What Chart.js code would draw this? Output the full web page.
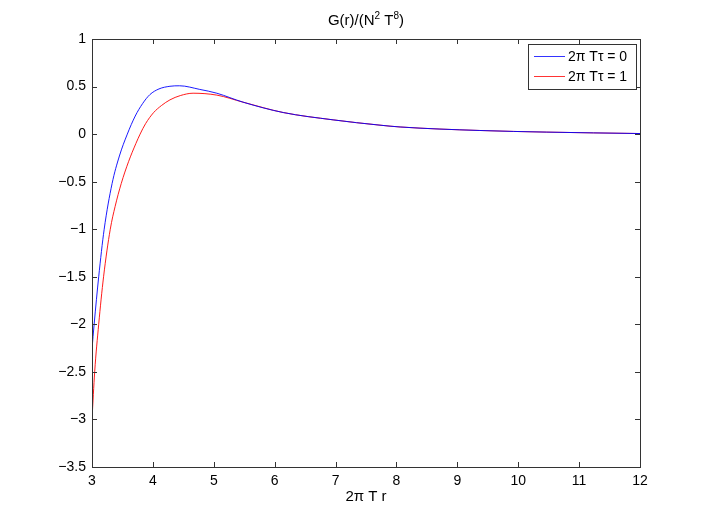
<!DOCTYPE html>
<html><head><meta charset="utf-8">
<script src="https://cdn.jsdelivr.net/npm/chart.js@4"></script>
<style>html,body{margin:0;padding:0;background:#fff}#wrap{width:708px;height:527px}</style>
</head><body><div id="wrap"><canvas id="c" width="708" height="527"></canvas></div>
<script>
const titleParts = [['G(r)/(N',0],['2',1],[' T',0],['8',1],[')',0]];
const xLabel = '2\u03C0 T r';
const seriesNames = ['2\u03C0 T\u03C4 = 0', '2\u03C0 T\u03C4 = 1'];
const xTicks = [3,4,5,6,7,8,9,10,11,12];
const yTicks = [1,0.5,0,-0.5,-1,-1.5,-2,-2.5,-3,-3.5];
const rTau0 = [3.0,3.035,3.11,3.20,3.33,3.45,3.58,3.71,3.83,3.95,4.10,4.28,4.44,4.77,5.05,5.48,6.14,6.96,7.73,8.06,9.37,10.47,12];
const gTau0 = [-2.26,-2.0,-1.5,-1.0,-0.52,-0.23,0.0,0.19,0.32,0.415,0.475,0.503,0.508,0.47,0.43,0.336,0.227,0.15,0.094,0.075,0.038,0.021,0.006];
const rTau1 = [3.0,3.044,3.11,3.19,3.30,3.38,3.48,3.60,3.72,3.79,3.88,4.01,4.14,4.28,4.45,4.66,5.05,5.48,6.14,6.96,7.73,8.06,9.37,10.47,12];
const gTau1 = [-3.0,-2.5,-2.0,-1.5,-1.0,-0.76,-0.52,-0.29,-0.10,0.0,0.11,0.225,0.30,0.36,0.405,0.43,0.41,0.336,0.227,0.15,0.094,0.075,0.038,0.021,0.006];
const colors = ['#0000ff','#ff0000'];

const toXY = (xs, ys) => xs.map((x,i)=>({x:x,y:ys[i]}));
const FONT = '"Liberation Sans", Arial, Helvetica, sans-serif';

const deco = {
  id:'deco',
  afterDraw(chart){
    const ctx = chart.ctx, a = chart.chartArea;
    const xs = chart.scales.x, ys = chart.scales.y;
    ctx.save();
    ctx.strokeStyle = '#333'; ctx.lineWidth = 1;
    ctx.strokeRect(Math.round(a.left)+0.5, Math.round(a.top)+0.5, Math.round(a.right-a.left), Math.round(a.bottom-a.top));
    const L = 5;
    ctx.beginPath();
    xTicks.forEach(v=>{
      const px = Math.round(xs.getPixelForValue(v))+0.5;
      ctx.moveTo(px, a.bottom); ctx.lineTo(px, a.bottom-L);
      ctx.moveTo(px, a.top); ctx.lineTo(px, a.top+L);
    });
    yTicks.forEach(v=>{
      const py = Math.round(ys.getPixelForValue(v))+0.5;
      ctx.moveTo(a.left, py); ctx.lineTo(a.left+L, py);
      ctx.moveTo(a.right, py); ctx.lineTo(a.right-L, py);
    });
    ctx.stroke();
    // title with superscripts
    ctx.fillStyle = '#000';
    ctx.textBaseline = 'alphabetic'; ctx.textAlign = 'left';
    const fMain = '15px ' + FONT, fSup = '10px ' + FONT;
    let w = 0;
    titleParts.forEach(p=>{ ctx.font = p[1] ? fSup : fMain; w += ctx.measureText(p[0]).width; });
    let tx = (a.left+a.right)/2 - w/2;
    titleParts.forEach(p=>{
      ctx.font = p[1] ? fSup : fMain;
      ctx.fillText(p[0], tx, p[1] ? 19 : 25);
      tx += ctx.measureText(p[0]).width;
    });
    // x label
    ctx.font = '15px ' + FONT;
    ctx.textAlign = 'center'; ctx.textBaseline = 'middle';
    ctx.fillText(xLabel, (a.left+a.right)/2, 497);
    // legend
    const bx = 528, by = 44, bw = 108, bh = 45;
    ctx.fillStyle = '#fff';
    ctx.fillRect(bx, by, bw, bh);
    ctx.strokeStyle = '#333'; ctx.lineWidth = 1;
    ctx.strokeRect(bx+0.5, by+0.5, bw, bh);
    ctx.font = '14px ' + FONT;
    ctx.textAlign = 'left';
    seriesNames.forEach((n,i)=>{
      const yy = 56 + i*20;
      ctx.strokeStyle = colors[i]; ctx.lineWidth = 0.8;
      ctx.beginPath(); ctx.moveTo(534, yy+0.5); ctx.lineTo(565, yy+0.5); ctx.stroke();
      ctx.fillStyle = '#000';
      ctx.fillText(n, 568, yy+1);
    });
    ctx.restore();
  }
};

new Chart(document.getElementById('c'), {
  type:'scatter',
  data:{datasets:[
    {label:seriesNames[0], data:toXY(rTau0,gTau0), showLine:true, borderColor:colors[0], borderWidth:0.9, pointRadius:0, cubicInterpolationMode:'monotone', fill:false},
    {label:seriesNames[1], data:toXY(rTau1,gTau1), showLine:true, borderColor:colors[1], borderWidth:0.9, pointRadius:0, cubicInterpolationMode:'monotone', fill:false}
  ]},
  options:{
    responsive:false, animation:false, devicePixelRatio:1,
    layout:{padding:{left:0, right:68, top:39, bottom:0}},
    plugins:{legend:{display:false}, title:{display:false}, tooltip:{enabled:false}},
    scales:{
      x:{type:'linear', min:3, max:12, afterBuildTicks(s){s.ticks = xTicks.map(v=>({value:v}));},
         afterFit(s){s.height = 60;},
         grid:{display:false, drawTicks:false}, border:{display:false},
         ticks:{color:'#000', font:{family:FONT, size:14}, padding:6, maxRotation:0, autoSkip:false, callback:v=>String(v)}},
      y:{type:'linear', min:-3.5, max:1, afterBuildTicks(s){s.ticks = yTicks.map(v=>({value:v}));},
         afterFit(s){s.width = 92;},
         grid:{display:false, drawTicks:false}, border:{display:false},
         ticks:{color:'#000', font:{family:FONT, size:14}, padding:6, autoSkip:false, callback:v=>String(v).replace('-','\u2212')}}
    }
  },
  plugins:[deco]
});
</script></body></html>
